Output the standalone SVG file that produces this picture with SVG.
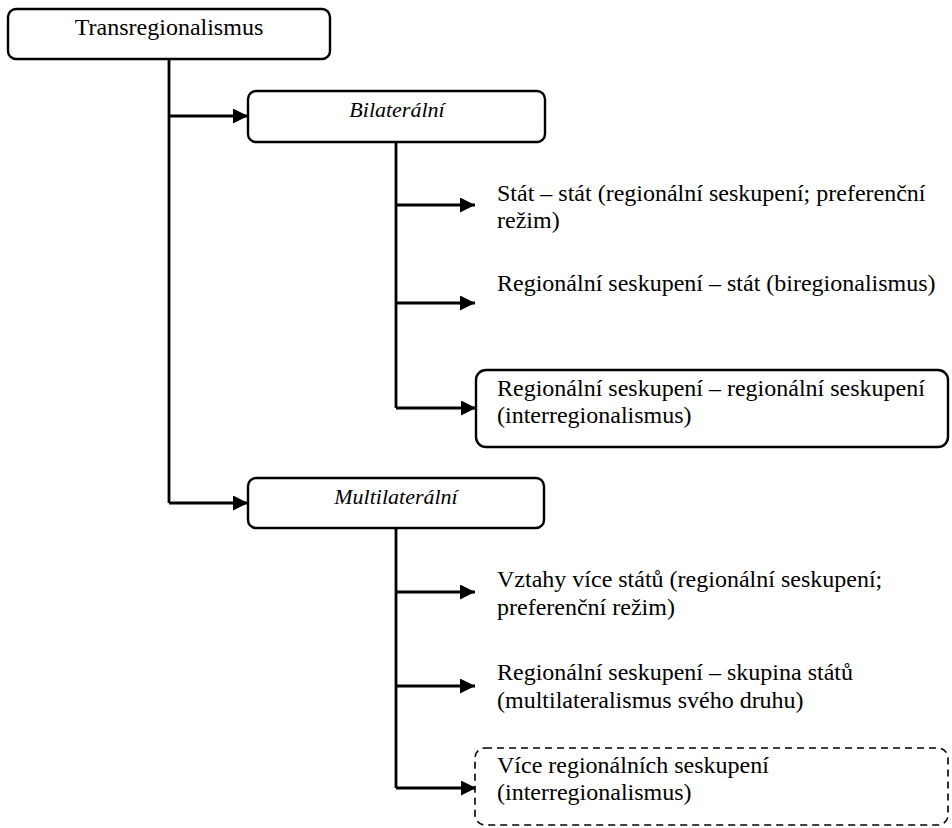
<svg xmlns="http://www.w3.org/2000/svg" width="952" height="828" viewBox="0 0 952 828">
<defs>
<marker id="ah" viewBox="0 0 10 10" refX="10" refY="5" markerWidth="15" markerHeight="15" markerUnits="userSpaceOnUse" orient="auto" preserveAspectRatio="none">
<path d="M0,0 L10,5 L0,10 Z" fill="#000"/>
</marker>
<style>
.box{fill:#fff;stroke:#000;stroke-width:2.4}
.dash{fill:#fff;stroke:#000;stroke-width:1.6;stroke-dasharray:7 5}
.ln{fill:none;stroke:#000;stroke-width:2.8}
.t{font-family:"Liberation Serif","Times New Roman",serif;font-size:24px;fill:#000}
.it{font-style:italic;font-size:22px}
</style>
</defs>
<g id="connectors">
<path class="ln" d="M169,59 V503"/>
<path class="ln" d="M169,116 H248" marker-end="url(#ah)"/>
<path class="ln" d="M169,503 H248" marker-end="url(#ah)"/>
<path class="ln" d="M396,142 V408"/>
<path class="ln" d="M396,205 H475" marker-end="url(#ah)"/>
<path class="ln" d="M396,303 H475" marker-end="url(#ah)"/>
<path class="ln" d="M396,408 H476" marker-end="url(#ah)"/>
<path class="ln" d="M396,528 V788"/>
<path class="ln" d="M396,592 H475" marker-end="url(#ah)"/>
<path class="ln" d="M396,686 H475" marker-end="url(#ah)"/>
<path class="ln" d="M396,788 H476" marker-end="url(#ah)"/>
</g>
<g id="n-trans">
<rect class="box" x="8" y="9" width="322" height="50" rx="8"/>
<text class="t" x="169" y="35" text-anchor="middle">Transregionalismus</text>
</g>
<g id="n-bilat">
<rect class="box" x="248" y="91" width="297" height="51" rx="8"/>
<text class="t it" x="397" y="117" text-anchor="middle">Bilaterální</text>
</g>
<g id="n-statstat">
<text class="t" x="497" y="201">Stát – stát (regionální seskupení; preferenční</text>
<text class="t" x="497" y="228">režim)</text>
</g>
<g id="n-regstat">
<text class="t" x="497" y="291">Regionální seskupení – stát (biregionalismus)</text>
</g>
<g id="n-regreg">
<rect class="box" x="476" y="370" width="472" height="77" rx="10"/>
<text class="t" x="497" y="396">Regionální seskupení – regionální seskupení</text>
<text class="t" x="497" y="423">(interregionalismus)</text>
</g>
<g id="n-multi">
<rect class="box" x="248" y="478" width="296" height="50" rx="8"/>
<text class="t it" x="396" y="504" text-anchor="middle">Multilaterální</text>
</g>
<g id="n-vztahy">
<text class="t" x="497" y="587">Vztahy více států (regionální seskupení;</text>
<text class="t" x="497" y="615">preferenční režim)</text>
</g>
<g id="n-skupina">
<text class="t" x="497" y="680">Regionální seskupení – skupina států</text>
<text class="t" x="497" y="708">(multilateralismus svého druhu)</text>
</g>
<g id="n-vice">
<rect class="dash" x="475" y="748" width="473" height="77" rx="10"/>
<text class="t" x="497" y="773">Více regionálních seskupení</text>
<text class="t" x="497" y="800">(interregionalismus)</text>
</g>
</svg>
